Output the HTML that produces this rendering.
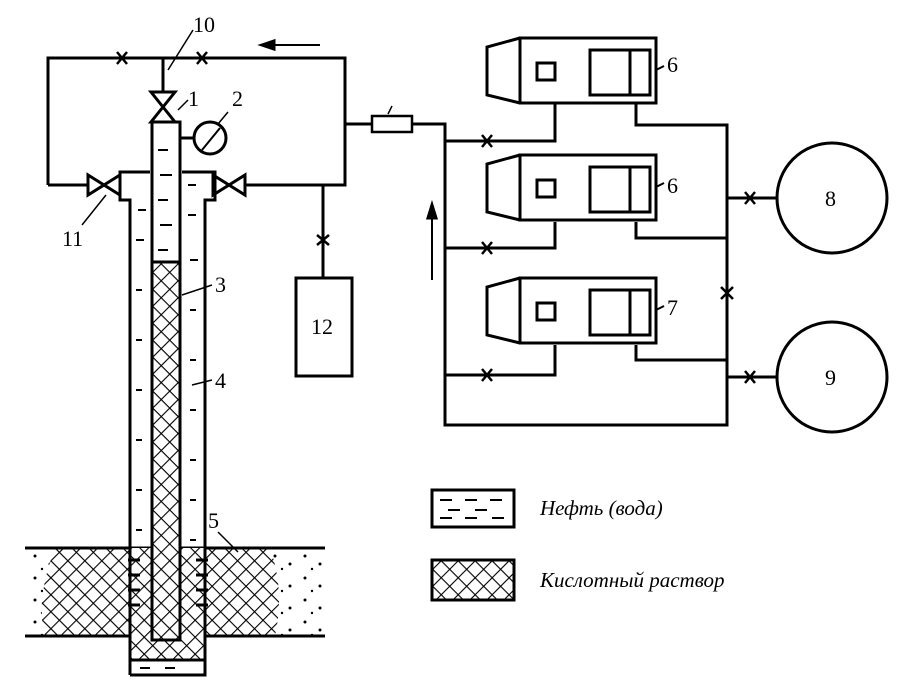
<!DOCTYPE html>
<html><head><meta charset="utf-8"><style>body{margin:0;background:#fff}svg{display:block}</style></head><body>
<svg width="907" height="691" viewBox="0 0 907 691" xmlns="http://www.w3.org/2000/svg" font-family="Liberation Serif, serif" font-size="22">
<defs>
<pattern id="h" width="12" height="12" patternUnits="userSpaceOnUse" patternTransform="rotate(45)">
<rect width="12" height="12" fill="#fff"/>
<path d="M0 0H12M0 0V12" stroke="#000" stroke-width="2.2"/>
</pattern>
<pattern id="d" width="30" height="22" patternUnits="userSpaceOnUse">
<circle cx="5" cy="6" r="1.5"/><circle cx="20" cy="14" r="1.5"/><circle cx="12" cy="19" r="1.2"/>
</pattern>
</defs>
<g stroke="#000" stroke-width="3" fill="none">
<path d="M48 185V58H345V185H245M88 185H48"/>
<path d="M117 52l10 12M127 52l-10 12M197 52l10 12M207 52l-10 12" stroke-width="2.5"/>
<path d="M320 45H265" stroke-width="2"/><path d="M262 45l12-4v8z" fill="#000"/>
<path d="M163 58V92"/>
<path d="M151 92h24l-24 30h24z" fill="#fff"/>
<path d="M168 70l25-40" stroke-width="1.5"/>
<path d="M88 175v20l32-20v20z" fill="#fff"/>
<path d="M245 175v20l-32-20v20z" fill="#fff"/>
<path d="M82 225l24-30" stroke-width="1.5"/>
<circle cx="210" cy="138" r="16"/><path d="M180 138h14"/><path d="M202 150l18-22" stroke-width="2"/><path d="M218 124l10-12" stroke-width="1.5"/>
<path d="M323 185V278"/><rect x="296" y="278" width="56" height="98"/>
<path d="M317 235l12 10M329 235l-12 10" stroke-width="2.5"/>
</g>
<rect x="25" y="548" width="300" height="88" fill="url(#d)"/>
<path d="M55 548H270Q285 590 275 636H45Q35 600 55 548z" fill="url(#h)"/>
<path d="M25 548H325M25 636H325" stroke="#000" stroke-width="3"/>
<rect x="130" y="548" width="75" height="112" fill="url(#h)"/>
<rect x="152" y="262" width="28" height="378" fill="url(#h)"/>
<g stroke="#000" stroke-width="3" fill="none">
<path d="M130 675V200H120V172H150"/>
<path d="M182 172H215V200H205V675H130"/>
<path d="M152 640V122H180V640z"/>
<path d="M152 262H180M130 660H205"/>
</g>
<g stroke="#000" stroke-width="2">
<path d="M158 150h10M160 175h12M158 200h10M160 225h12M158 250h10M138 210h8M188 185h8M188 215h8M136 240h8M190 260h8M136 290h6M190 310h6M136 340h6M190 360h6M136 390h6M190 410h6M136 440h6M190 460h6M136 490h6M190 500h6M136 530h6M190 540h6M140 668h10M165 668h10"/>
<path d="M128 560h12M128 575h12M128 590h12M128 605h12M196 560h12M196 575h12M196 590h12M196 605h12" stroke-width="3"/>
</g>
<g stroke="#000" stroke-width="1.5">
<path d="M178 110l10-10M212 285l-30 10M212 380l-20 5M218 532l20 20"/>
</g>
<g stroke="#000" stroke-width="3" fill="none">
<path d="M345 124H372M412 124H445V425H727V125H636V103"/>
<rect x="372" y="116" width="40" height="16" stroke-width="2.5"/>
<path d="M388 114l4-8" stroke-width="1.5"/>
<path d="M445 141H555V103M445 248H555V222M445 375H555V345M636 222V238H727M636 345V360H727M727 198H777M727 377H777"/>
<circle cx="832" cy="198" r="55"/><circle cx="832" cy="377" r="55"/>
<path d="M482 135l10 12M492 135l-10 12M482 242l10 12M492 242l-10 12M482 369l10 12M492 369l-10 12M745 192l10 12M755 192l-10 12M745 371l10 12M755 371l-10 12M721 287l12 12M733 287l-12 12" stroke-width="2.5"/>
<path d="M432 280V212" stroke-width="2"/><path d="M432 205l-4 13h8z" fill="#000"/>
</g>
<g stroke="#000" stroke-width="3" fill="#fff">
<g id="p"><path d="M520 38L487 47V95L520 103"/><rect x="520" y="38" width="136" height="65"/><rect x="537" y="63" width="18" height="17"/><rect x="590" y="50" width="60" height="45"/><path d="M630 50V95"/><path d="M656 70l8-4" stroke-width="2"/></g>
<use href="#p" y="117"/><use href="#p" y="240"/>
</g>
<rect x="432" y="490" width="82" height="37" fill="none" stroke="#000" stroke-width="3"/>
<path d="M440 500h12M465 500h12M490 500h12M448 510h12M475 510h12M440 518h12M465 518h12M492 518h12" stroke="#000" stroke-width="2"/>
<rect x="432" y="560" width="82" height="40" fill="url(#h)" stroke="#000" stroke-width="3"/>
<g fill="#000">
<text x="193" y="32">10</text><text x="188" y="106">1</text><text x="232" y="106">2</text>
<text x="215" y="292">3</text><text x="215" y="388">4</text><text x="208" y="528">5</text>
<text x="62" y="246">11</text><text x="311" y="334">12</text>
<text x="667" y="72">6</text><text x="667" y="193">6</text><text x="667" y="315">7</text>
<text x="825" y="206">8</text><text x="825" y="385">9</text>
<text x="540" y="515" font-style="italic" font-size="21">Нефть (вода)</text>
<text x="540" y="587" font-style="italic" font-size="21">Кислотный раствор</text>
</g>
</svg>
</body></html>
